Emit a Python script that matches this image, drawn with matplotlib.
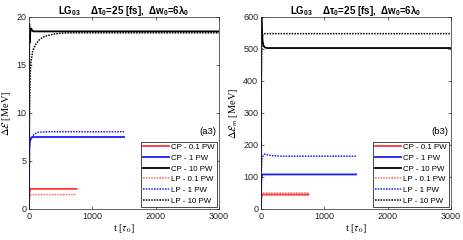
import matplotlib
matplotlib.use("Agg")
import matplotlib.pyplot as plt
import numpy as np

plt.rcParams['font.family'] = ['Liberation Sans', 'DejaVu Sans']
plt.rcParams['mathtext.fontset'] = 'custom'
plt.rcParams['mathtext.rm'] = 'Liberation Sans'
plt.rcParams['mathtext.it'] = 'Liberation Sans:italic'
plt.rcParams['mathtext.bf'] = 'Liberation Sans:bold'

labels = ["CP - 0.1 PW", "CP - 1 PW", "CP - 10 PW", "LP - 0.1 PW", "LP - 1 PW", "LP - 10 PW"]
colors = ["#ff3333", "#1a1aff", "#000000", "#ff3333", "#1a1aff", "#000000"]
styles = ["-", "-", "-", ":", ":", ":"]

# Panel (a3): energy gain
a_cp01_t = [0, 5, 15, 30, 750]
a_cp01_v = [0, 1.6, 2.0, 2.1, 2.1]
a_cp1_t = [0, 5, 15, 30, 60, 1500]
a_cp1_v = [0, 6.5, 7.2, 7.4, 7.5, 7.5]
a_cp10_t = [0, 4, 8, 12, 20, 35, 50, 70, 100, 3000]
a_cp10_v = [0, 19.3, 17.3, 17.6, 18.4, 18.8, 18.6, 18.5, 18.5, 18.5]
a_lp01_t = [0, 5, 15, 40, 750]
a_lp01_v = [0, 1.1, 1.4, 1.5, 1.5]
a_lp1_t = [0, 5, 15, 40, 80, 150, 300, 1500]
a_lp1_v = [0, 6.0, 7.0, 7.4, 7.8, 8.0, 8.05, 8.05]
a_lp10_t = [0, 8, 16, 30, 60, 100, 175, 250, 410, 600, 3000]
a_lp10_v = [0, 10.0, 13.5, 15.3, 16.5, 17.1, 17.7, 18.0, 18.25, 18.35, 18.35]

# Panel (b3): max energy
b_cp01_t = [0, 5, 15, 30, 750]
b_cp01_v = [0, 35, 43, 45, 45]
b_cp1_t = [0, 5, 15, 25, 1500]
b_cp1_v = [0, 90, 105, 108, 108]
b_cp10_t = [0, 3, 8, 15, 25, 40, 60, 100, 3000]
b_cp10_v = [0, 640, 620, 560, 525, 510, 505, 503, 503]
b_lp01_t = [0, 5, 15, 40, 750]
b_lp01_v = [0, 40, 48, 50, 50]
b_lp1_t = [0, 5, 15, 30, 60, 120, 300, 1500]
b_lp1_v = [0, 120, 155, 165, 172, 168, 165, 165]
b_lp10_t = [0, 5, 15, 30, 60, 3000]
b_lp10_v = [0, 400, 535, 545, 548, 548]

a_series = [(a_cp01_t, a_cp01_v), (a_cp1_t, a_cp1_v), (a_cp10_t, a_cp10_v),
            (a_lp01_t, a_lp01_v), (a_lp1_t, a_lp1_v), (a_lp10_t, a_lp10_v)]
b_series = [(b_cp01_t, b_cp01_v), (b_cp1_t, b_cp1_v), (b_cp10_t, b_cp10_v),
            (b_lp01_t, b_lp01_v), (b_lp1_t, b_lp1_v), (b_lp10_t, b_lp10_v)]

title = r"LG$_{\mathbf{03}}$    $\mathbf{\Delta\tau_0}$=25 [fs],  $\mathbf{\Delta w_0}$=6$\mathbf{\lambda_0}$"

fig = plt.figure(figsize=(4.63, 2.40), dpi=100)
ax1 = fig.add_axes([29/463, 1-209/240, 190/463, 192/240])
ax2 = fig.add_axes([261/463, 1-209/240, 190/463, 192/240])

def draw(ax, series, ylim, yticks, ylabel, tag):
    for (t, v), lab, c, ls in zip(series, labels, colors, styles):
        if ls == "-":
            ax.plot(t, v, color=c, ls="-", lw=1.3, label=lab)
        else:
            ax.plot(t, v, color=c, ls=(0, (1, 0.8)), lw=1.1, label=lab,
                    alpha=0.75 if c == "#ff3333" else 1.0)
    ax.set_xlim(0, 3000)
    ax.set_ylim(*ylim)
    ax.set_xticks([0, 1000, 2000, 3000])
    ax.set_yticks(yticks)
    ax.tick_params(direction='in', top=True, right=True, labelsize=6.5,
                   length=2.5, width=0.5, pad=2, colors='#262626')
    for s in ax.spines.values():
        s.set_linewidth(0.5)
        s.set_color('#262626')
    ax.set_xlabel(r"t [$\tau_0$]", fontsize=7.5, family='Liberation Serif',
                  math_fontfamily='stix', labelpad=1)
    ax.set_ylabel(ylabel, fontsize=7.5, family='Liberation Serif',
                  math_fontfamily='stix', labelpad=2)
    ax.set_title(title, fontsize=7, fontweight='bold', pad=2)
    leg = ax.legend(loc='lower right', fontsize=5.7, frameon=True, fancybox=False,
                    edgecolor='black', framealpha=1, handlelength=3.3,
                    borderpad=0.25, labelspacing=0.4, handletextpad=0.3,
                    borderaxespad=0.3)
    leg.get_frame().set_linewidth(0.5)
    ax.text(0.985, 0.38, tag, transform=ax.transAxes, ha='right', va='bottom', fontsize=6.8)

draw(ax1, a_series, (0, 20), [0, 5, 10, 15, 20], r"$\Delta\mathcal{E}$ [MeV]", "(a3)")
draw(ax2, b_series, (0, 600), [0, 100, 200, 300, 400, 500, 600], r"$\Delta\mathcal{E}_m$ [MeV]", "(b3)")

fig.savefig("out.png", dpi=100)
